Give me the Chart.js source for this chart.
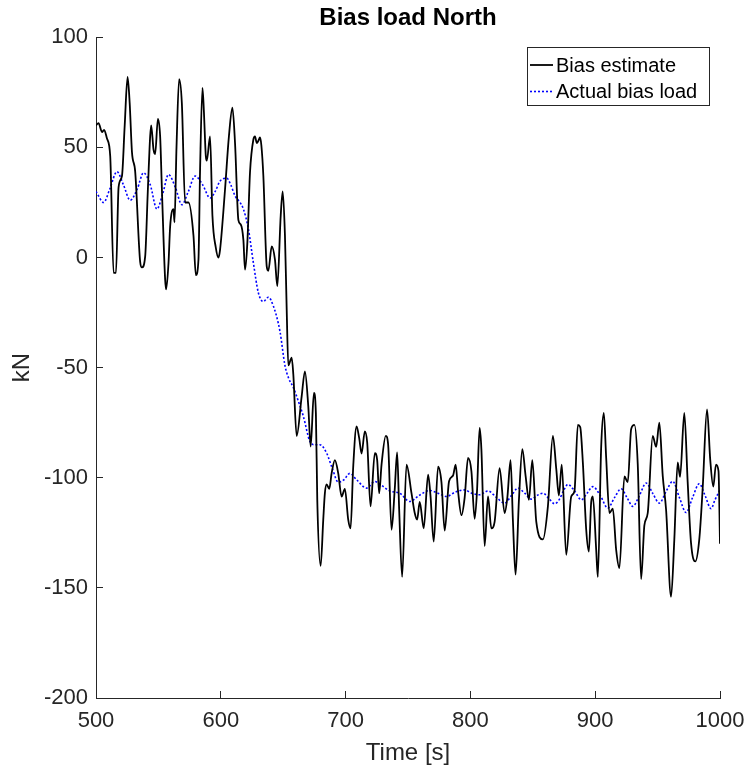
<!DOCTYPE html>
<html>
<head>
<meta charset="utf-8">
<script src="https://cdn.jsdelivr.net/npm/chart.js@4.4.1/dist/chart.umd.min.js"></script>
<style>
html,body{margin:0;padding:0;background:#fff;}
canvas{display:block;}
</style>
</head>
<body>
<canvas id="c" width="749" height="773"></canvas>
<script>
// ---- data ----
const estTime = [500,502,504.8,506.5,508.8,511.4,514.1,516,518.1,520.8,523,525.3,527,528.8,531.4,535.4,536.8,539.4,541.5,543.4,544.2,546.1,547.4,549.6,551.4,552.8,555.4,556.2,558.1,559.4,562.1,562.9,564.5,566.6,568.8,571.4,574.1,578.1,580,582.1,583.4,585.3,586.4,588,588.8,591.4,593.3,596,598.1,599.4,603.4,606.5,609.3,611.4,614.1,616,618.1,619.4,621.3,623.4,626.1,627.4,628.8,630.1,631.4,632.5,634.1,636.8,638.1,640.8,643.4,645.3,648,649.6,651.4,652.8,654.1,656.8,658.1,660.8,664.8,667.4,670.1,672,674.6,676.2,677.3,680,682.1,683.4,684.8,686.9,688.8,691.4,694.1,696.8,699.4,702.1,704,706.1,708.8,710.9,712.8,715.4,717.3,720,723.4,725.3,726.9,728.8,732.2,734.1,736.8,739.4,741.3,742.9,745.3,748.8,752.8,755.4,757.3,759.4,762.6,766.1,768,770.6,774.1,776.8,779.4,782.9,786.1,788.2,790.1,792.8,795.4,798.1,800.8,803.4,805.3,807.4,808.8,811.4,814.1,816.8,819.4,823.4,827.4,829.6,832.2,834.1,836.2,838.9,841.6,844.2,846.9,849.6,852.8,858.1,862.1,866.1,868.8,870.9,873.2,876.8,880.8,883.4,886.1,888,890.1,892.8,894.9,896.8,898.1,900.8,902.1,904.8,906.9,908.8,911.4,914.1,916.8,919.4,923.4,926.1,928.8,931.4,934.1,936.8,939.4,942.1,946.1,948.8,951.4,954.1,956.8,960.8,963.4,966.1,968,971.4,974.1,976.8,980.2,983.4,986.1,989.6,992.2,994.6,996.8,998.8,1000];
const estValue = [60,61,57,58,54,46,-7,-7,32,37,60,82,70,48,39,-2,-4.5,0.5,30,55,60,49,47,63,55,31,-10,-14.5,-2.5,14,22,16,50,81,70,25,25,10,-8,-1,40,77,67,46,44,55,19,4.5,0,3.5,31,55,68,52,17,15,8,-5.5,7,38.6,53.6,55,52,53,54.5,51,37,-4,-6,5,-1,-13,19,30,10,-23.6,-49,-45.5,-53,-81,-63,-51.7,-67.6,-85.8,-61.5,-71,-110,-140,-119,-107,-103,-105,-98,-92,-98,-108.5,-105,-119,-123,-95,-76.7,-82,-89,-79,-84,-113,-88.8,-92,-107,-94,-81,-85,-123.6,-105,-88.5,-114,-145,-94,-107,-116,-119,-111,-123,-98.6,-108,-129,-95,-102,-124,-101.6,-99,-94,-106,-117,-109,-91,-97,-118.6,-106,-77.4,-87,-131,-108.5,-123,-120,-95.6,-116,-109,-92,-120,-144,-110,-87,-99,-110,-92,-120,-128,-113,-81,-96,-108,-94,-135,-108.5,-106,-76,-77,-93,-123.6,-133.5,-111,-108.5,-132.7,-145,-85.8,-70.6,-91,-116,-114,-132.7,-141,-99.4,-102,-78,-76,-94,-146,-121.6,-116,-81,-86,-75,-99,-114.5,-154,-128,-93,-99.6,-70.6,-102,-129.7,-138,-128,-105,-69,-92,-104,-94,-97,-130];

const actTime = [500,506.1,511,516.8,522,527.4,533,538.1,543.5,548.8,553.5,558.1,563.5,568.8,574,579.4,585.5,591.4,595.5,599.4,604.8,608,611.4,615.4,618.1,622.1,626.1,630.1,634.1,638.1,642.1,647.4,651.4,654.5,658.1,662,666.1,671.4,675,679.4,684.8,689.5,694.1,698.5,703.4,709,716.8,723.4,729,735.4,743.4,751.4,759,767.4,774,780.8,788,795.4,801,807.4,814.1,821,827.4,833,838.1,843.5,848.8,853.5,858.1,863,867.4,871.4,874.5,878.1,883.5,888.8,893.5,898.1,904,910.1,915.5,920.8,925.5,930.1,935.5,940.8,946,951.4,957,962.1,967.5,972.8,978,983.4,988,992.8,996,1000];
const actValue = [30,25,31,39,33,26,31,38.5,33,22,29,37.7,32,24,30,37,33,27,30,34.7,36,33,28,25,22,13,-2.4,-16,-20,-18,-22,-33.5,-49,-55,-59,-65,-72,-83.5,-85,-85,-88.8,-96,-102,-101,-98,-101,-104.7,-101.7,-103.5,-106,-107,-110.8,-108,-105.8,-107,-108.5,-106.5,-105.5,-107,-107.7,-106,-109,-111.5,-108,-104.7,-107,-109.7,-108,-107,-109.5,-111.8,-109.7,-106,-103,-106,-110,-107,-104,-108,-113.8,-109,-105,-109,-113,-108,-102.4,-107,-111.5,-106,-101.6,-109,-115.8,-109,-102.7,-108,-114,-110,-105.5];

const xTicks = [500,600,700,800,900,1000];
const yTicks = [-200,-150,-100,-50,0,50,100];
const seriesNames = ['Bias estimate','Actual bias load'];
const titleText = 'Bias load North';
const xLabel = 'Time [s]';
const yLabel = 'kN';

// ---- chart ----
const ink = '#262626';
const FONT = "'Liberation Sans', Arial, Helvetica, sans-serif";

const toXY = (ts, vs) => ts.map((t, i) => ({x: t, y: vs[i]}));

const legendPlugin = {
  id: 'matlabLegend',
  afterDraw(chart) {
    const ctx = chart.ctx;
    const bx = 527.5, by = 47.5, bw = 182, bh = 58;
    ctx.save();
    ctx.fillStyle = '#fff';
    ctx.fillRect(bx, by, bw, bh);
    ctx.strokeStyle = ink;
    ctx.lineWidth = 1;
    ctx.strokeRect(bx, by, bw, bh);
    const rows = [65, 91.5];
    chart.data.datasets.forEach((ds, i) => {
      const y = rows[i];
      ctx.beginPath();
      ctx.strokeStyle = ds.borderColor;
      ctx.lineWidth = ds.borderWidth;
      ctx.setLineDash(ds.borderDash || []);
      ctx.moveTo(530, y);
      ctx.lineTo(553, y);
      ctx.stroke();
      ctx.setLineDash([]);
      ctx.fillStyle = '#000';
      ctx.font = '20px ' + FONT;
      ctx.textBaseline = 'middle';
      ctx.textAlign = 'left';
      ctx.fillText(ds.label, 556, y + 1);
    });
    ctx.restore();
  }
};

new Chart(document.getElementById('c'), {
  type: 'line',
  data: {
    datasets: [
      {
        label: seriesNames[0],
        data: toXY(estTime, estValue),
        borderColor: '#000000',
        borderWidth: 1.8,
        pointRadius: 0,
        cubicInterpolationMode: 'monotone',
        fill: false
      },
      {
        label: seriesNames[1],
        data: toXY(actTime, actValue),
        borderColor: '#0000ff',
        borderWidth: 1.6,
        borderDash: [2, 2],
        pointRadius: 0,
        cubicInterpolationMode: 'monotone',
        fill: false
      }
    ]
  },
  options: {
    responsive: false,
    animation: false,
    devicePixelRatio: 1,
    layout: { padding: { left: 0, right: 29, top: 0, bottom: 0 } },
    plugins: {
      legend: { display: false },
      tooltip: { enabled: false },
      title: {
        display: true,
        text: titleText,
        fullSize: false,
        color: '#000',
        font: { family: FONT, size: 24, weight: 'bold', lineHeight: 1.2 },
        padding: { top: 4, bottom: 4.5 }
      }
    },
    scales: {
      x: {
        type: 'linear',
        min: 500, max: 1000,
        afterBuildTicks(scale) { scale.ticks = xTicks.map(v => ({value: v})); },
        afterFit(scale) { scale.height = 75; scale.paddingLeft = 0; scale.paddingRight = 0; },
        grid: { display: true, drawOnChartArea: false, drawTicks: true, tickLength: -7, color: ink, lineWidth: 1 },
        border: { display: true, color: ink, width: 1 },
        ticks: { color: ink, padding: 17, font: { family: FONT, size: 22 }, maxRotation: 0, autoSkip: false, callback: v => String(v) },
        title: { display: true, text: xLabel, color: ink, font: { family: FONT, size: 24, lineHeight: 1.2 }, padding: { top: 0, bottom: 5 } }
      },
      y: {
        type: 'linear',
        min: -200, max: 100,
        afterBuildTicks(scale) { scale.ticks = yTicks.map(v => ({value: v})); },
        afterFit(scale) { scale.width = 96; scale.paddingTop = 0; scale.paddingBottom = 0; },
        grid: { display: true, drawOnChartArea: false, drawTicks: true, tickLength: -7, color: ink, lineWidth: 1 },
        border: { display: true, color: ink, width: 1 },
        ticks: { color: ink, padding: 15, font: { family: FONT, size: 22 }, autoSkip: false, callback: v => String(v) },
        title: { display: true, text: yLabel, color: ink, font: { family: FONT, size: 24, lineHeight: 1.2 }, padding: { top: 7.6, bottom: 0 } }
      }
    }
  },
  plugins: [legendPlugin]
});
</script>
</body>
</html>
